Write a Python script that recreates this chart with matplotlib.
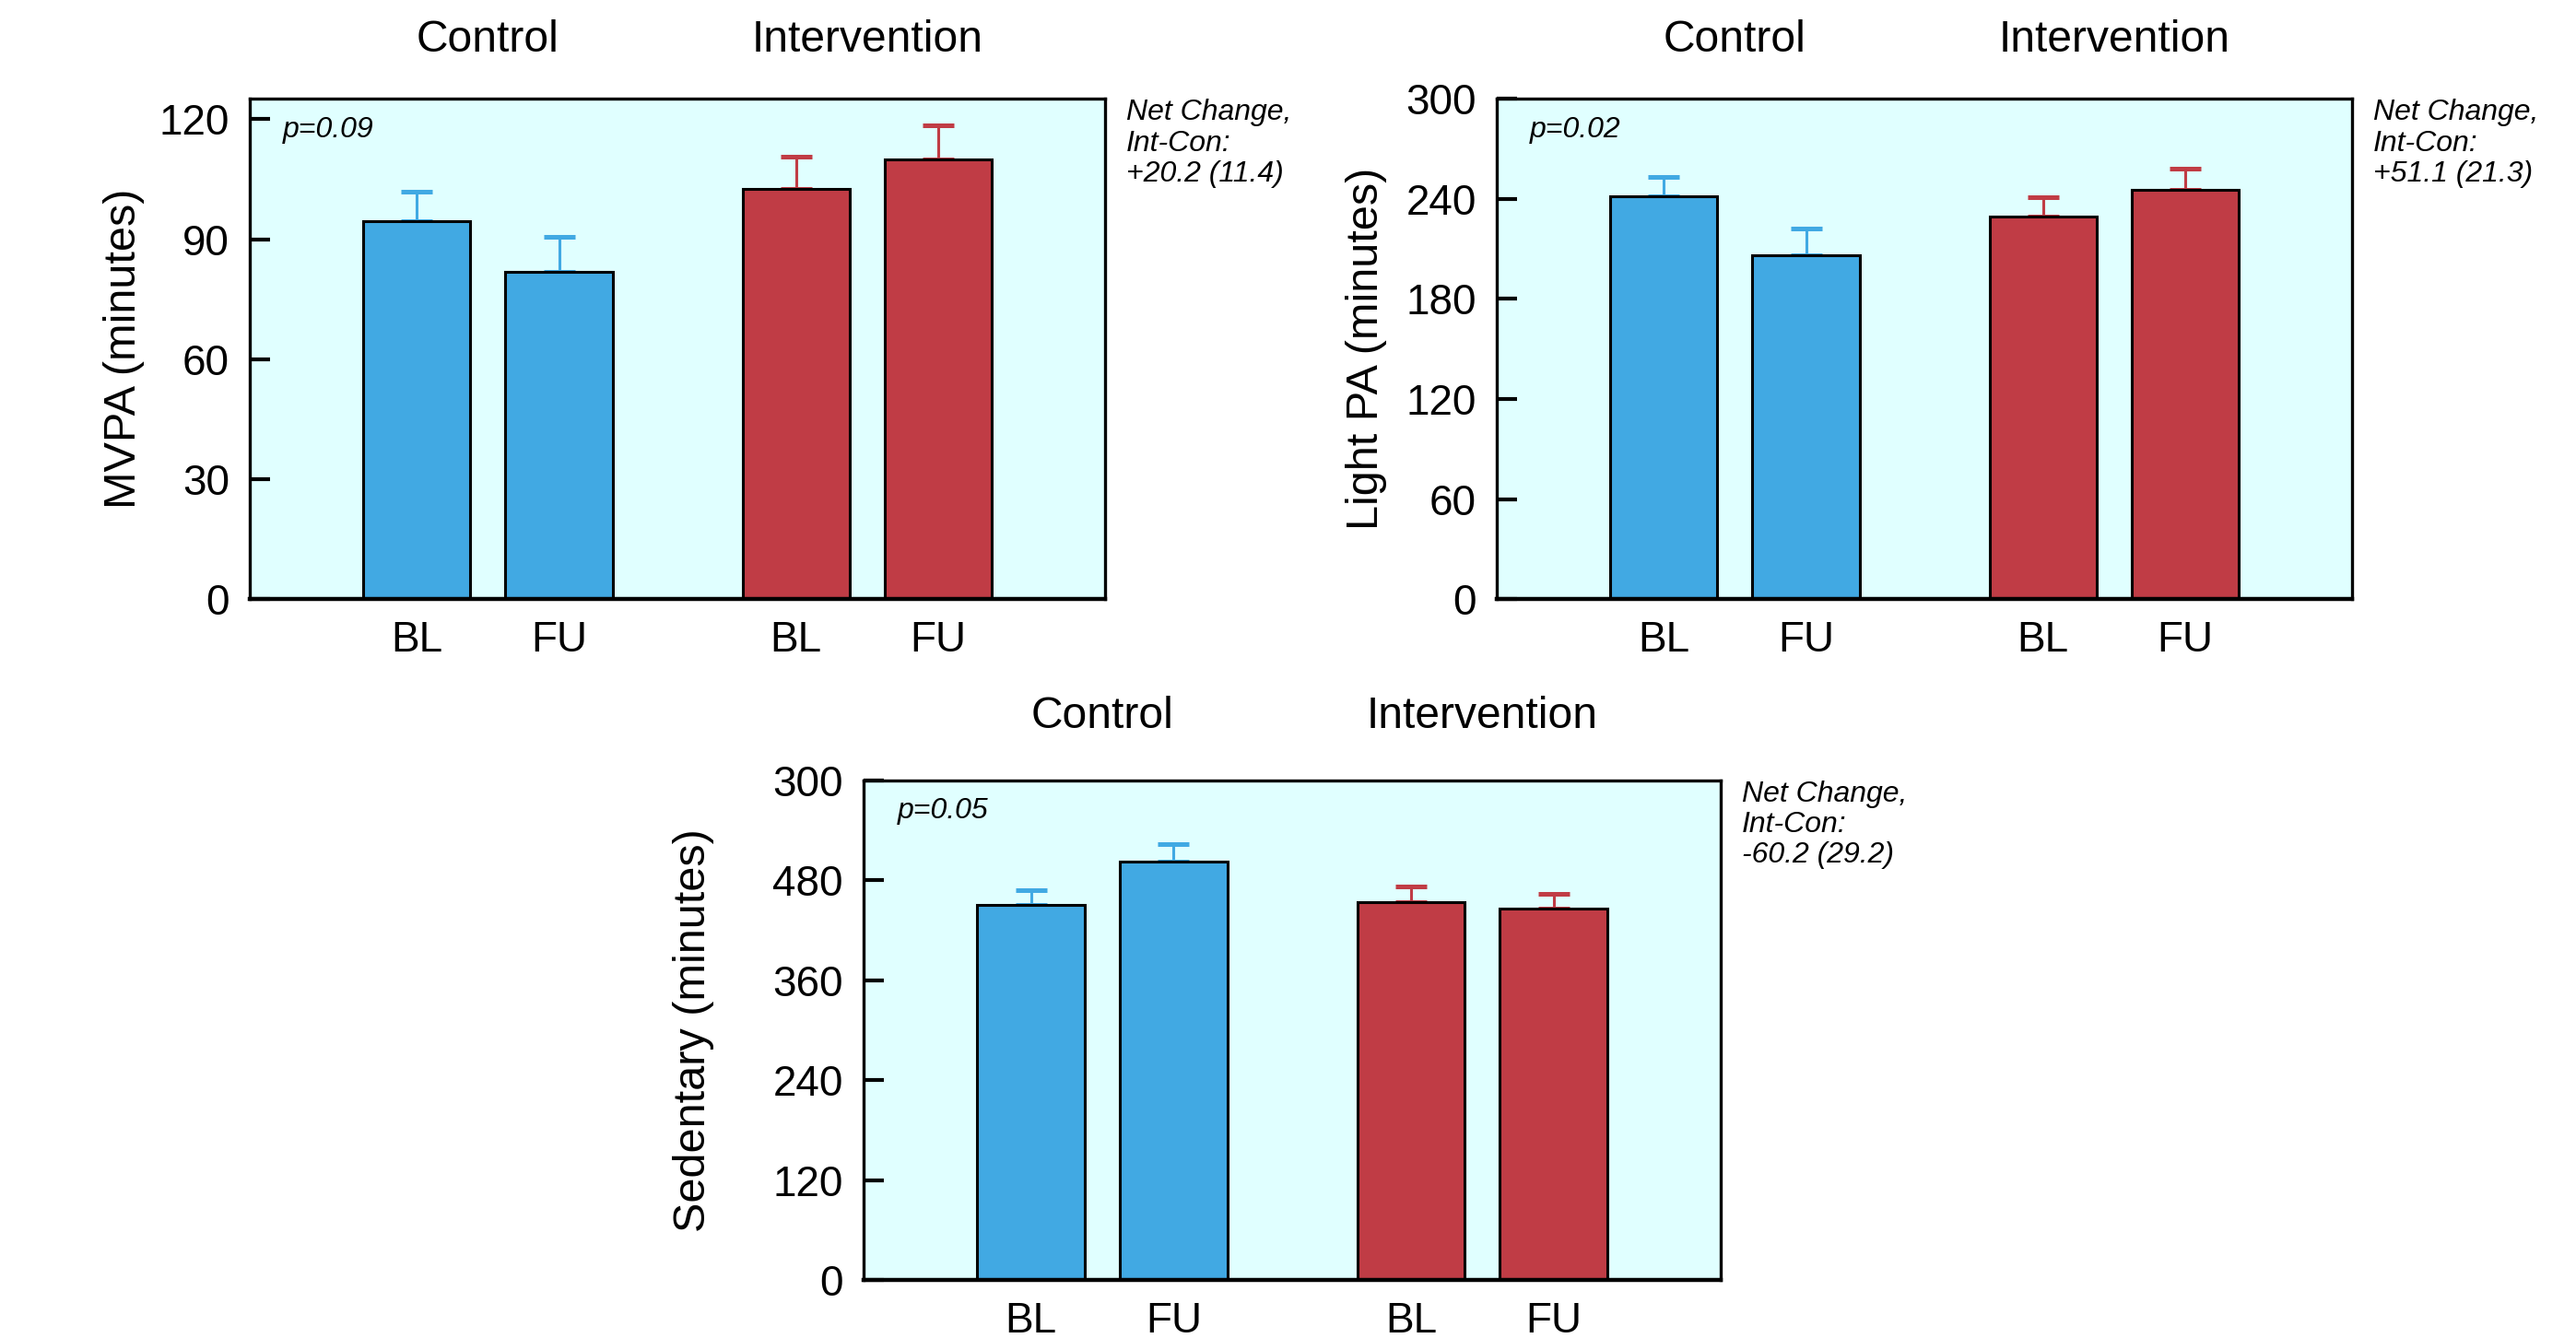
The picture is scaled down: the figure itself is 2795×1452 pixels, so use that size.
import numpy as np
import matplotlib
matplotlib.use("Agg")
from matplotlib import pyplot as plt
import matplotlib.transforms as mtransforms

plt.rcParams['font.family'] = ['Liberation Sans', 'DejaVu Sans']

# data
groups = ['Control', 'Intervention']
timepoints = ['BL', 'FU', 'BL', 'FU']

mvpa_mean = [94.5, 81.8, 102.6, 110.0]
mvpa_err = [7.4, 8.8, 8.0, 8.4]
light_mean = [241.6, 206.4, 229.3, 245.2]
light_err = [11.5, 15.6, 11.5, 13.1]
sed_mean = [450.4, 501.8, 453.0, 445.8]
sed_err = [17.8, 21.9, 18.8, 17.8]

mvpa_ticks = [0, 30, 60, 90, 120]
light_ticks = [0, 60, 120, 180, 240, 300]
sed_ticks = [0, 120, 240, 360, 480, 600]
sed_ticklabels = ['0', '120', '240', '360', '480', '300']  # as printed in the original

pvals = ['p=0.09', 'p=0.02', 'p=0.05']
net_change = ['+20.2 (11.4)', '+51.1 (21.3)', '-60.2 (29.2)']

blue = '#41A9E3'
red = '#C03C45'
bg = '#E0FFFF'

# bar positions: two per group, wider gap between groups
x = np.array([0, 1, 2.665, 3.665])
bar_w = 0.753
colors = [blue, blue, red, red]


def draw_panel(ax, means, errs, ylim, ticks, ticklabels, ylabel, pval, net, label_off, grp_y):
    ax.set_facecolor(bg)
    ax.bar(x, means, width=bar_w, color=colors, edgecolor='black', linewidth=1.1, zorder=3)
    for xi, m, e, c in zip(x, means, errs, colors):
        ax.errorbar(xi, m, yerr=[[0], [e]], fmt='none', ecolor=c, elinewidth=1.1,
                    capsize=6, capthick=1.8, zorder=2)
    ax.set_xlim(-1.173, 4.836)
    ax.set_ylim(*ylim)
    ax.set_yticks(ticks)
    ax.set_yticklabels(ticklabels)
    ax.set_xticks(x)
    ax.set_xticklabels(timepoints)
    ax.tick_params(axis='y', direction='in', length=8, width=1.5, pad=8, labelsize=16.5)
    ax.tick_params(axis='x', length=0, pad=8, labelsize=16.5)
    for s in ax.spines.values():
        s.set_linewidth(1.2)
        s.set_zorder(4)
    ax.spines['bottom'].set_linewidth(1.6)
    ax.set_ylabel(ylabel, fontsize=17.5)
    ax.yaxis.set_label_coords(-label_off / 928, 0.5)

    trans = mtransforms.blended_transform_factory(ax.transData, ax.transAxes)
    ax.text(x[:2].mean(), grp_y, groups[0], transform=trans, ha='center', va='center', fontsize=17.3)
    ax.text(x[2:].mean(), grp_y, groups[1], transform=trans, ha='center', va='center', fontsize=17.3)

    ax.text(0.039, 0.965, pval, transform=ax.transAxes, style='italic', fontsize=11.5,
            ha='left', va='top')
    ax.text(1.025, 1.0, 'Net Change,\nInt-Con:\n' + net, transform=ax.transAxes,
            style='italic', fontsize=11.5, ha='left', va='top', linespacing=1.15)


fig = plt.figure(figsize=(13.975, 7.26), dpi=200)
ax1 = fig.add_axes([0.09696, 0.55214, 0.33202, 0.37397])
ax2 = fig.add_axes([0.58104, 0.55214, 0.33202, 0.37397])
ax3 = fig.add_axes([0.33531, 0.04318, 0.33263, 0.37383])

draw_panel(ax1, mvpa_mean, mvpa_err, (0, 125.1), mvpa_ticks, [str(t) for t in mvpa_ticks],
           'MVPA (minutes)', pvals[0], net_change[0], 114, 1.118)
draw_panel(ax2, light_mean, light_err, (0, 300), light_ticks, [str(t) for t in light_ticks],
           'Light PA (minutes)', pvals[1], net_change[1], 119, 1.118)
draw_panel(ax3, sed_mean, sed_err, (0, 600), sed_ticks, sed_ticklabels,
           'Sedentary (minutes)', pvals[2], net_change[2], 162, 1.127)

plt.savefig('out.png', dpi=200)
